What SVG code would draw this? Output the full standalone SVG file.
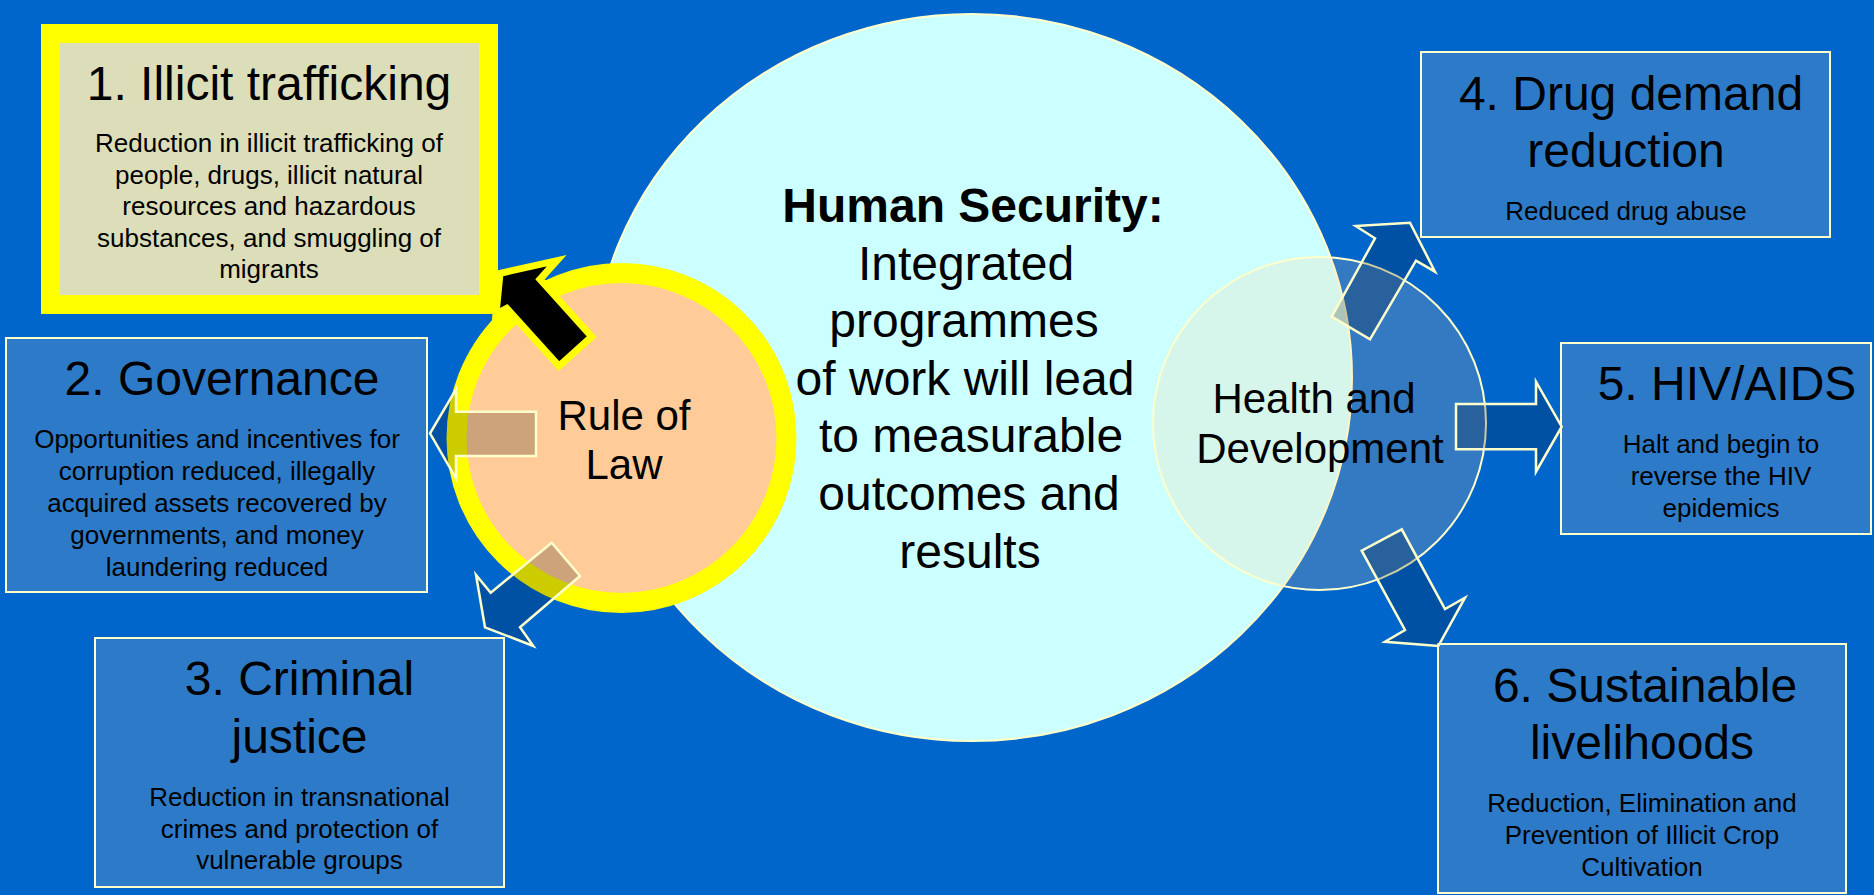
<svg xmlns="http://www.w3.org/2000/svg" width="1874" height="895" viewBox="0 0 1874 895">
<style>
.box{fill:#2D7BC8;stroke:#FFFFCC;stroke-width:2}
text{font-family:"Liberation Sans",Arial,Helvetica,sans-serif;fill:#000;text-anchor:middle}
.t{font-size:48px}
.b{font-size:26px}
.c{font-size:48px}
.m{font-size:42px}
.arrow{fill:#000;fill-opacity:0.2;stroke:#FFFFCC;stroke-width:2.5;stroke-linejoin:miter}
</style>
<rect x="0" y="0" width="1874" height="895" fill="#0066CC"/>

<g id="node-1">
<rect x="50.5" y="33.5" width="438" height="271" fill="#DCDEBA" stroke="#FFFF00" stroke-width="19"/>
<text class="t" x="269" y="100">1. Illicit trafficking</text>
<text class="b" x="269" y="152">Reduction in illicit trafficking of</text>
<text class="b" x="269" y="183.5">people, drugs, illicit natural</text>
<text class="b" x="269" y="215">resources and hazardous</text>
<text class="b" x="269" y="246.5">substances, and smuggling of</text>
<text class="b" x="269" y="278">migrants</text>
</g>

<g id="node-2">
<rect class="box" x="6" y="338" width="421" height="254"/>
<text class="t" x="222" y="395">2. Governance</text>
<text class="b" x="217" y="448">Opportunities and incentives for</text>
<text class="b" x="217" y="480">corruption reduced, illegally</text>
<text class="b" x="217" y="512">acquired assets recovered by</text>
<text class="b" x="217" y="544">governments, and money</text>
<text class="b" x="217" y="576">laundering reduced</text>
</g>

<g id="node-3">
<rect class="box" x="95" y="638" width="409" height="249"/>
<text class="t" x="299.5" y="695">3. Criminal</text>
<text class="t" x="299.5" y="753">justice</text>
<text class="b" x="299.5" y="806">Reduction in transnational</text>
<text class="b" x="299.5" y="837.5">crimes and protection of</text>
<text class="b" x="299.5" y="869">vulnerable groups</text>
</g>

<g id="node-4">
<rect class="box" x="1421" y="52" width="409" height="185"/>
<text class="t" x="1631" y="110">4. Drug demand</text>
<text class="t" x="1626" y="167">reduction</text>
<text class="b" x="1626" y="220">Reduced drug abuse</text>
</g>

<g id="node-5">
<rect class="box" x="1561" y="343" width="310" height="191"/>
<text class="t" x="1727" y="400">5. HIV/AIDS</text>
<text class="b" x="1721" y="453">Halt and begin to</text>
<text class="b" x="1721" y="485">reverse the HIV</text>
<text class="b" x="1721" y="517">epidemics</text>
</g>

<g id="node-6">
<rect class="box" x="1438" y="644" width="408" height="249"/>
<text class="t" x="1645" y="702">6. Sustainable</text>
<text class="t" x="1642" y="759">livelihoods</text>
<text class="b" x="1642" y="812">Reduction, Elimination and</text>
<text class="b" x="1642" y="844">Prevention of Illicit Crop</text>
<text class="b" x="1642" y="876">Cultivation</text>
</g>

<g id="node-human-security">
<ellipse cx="972" cy="377.5" rx="380" ry="363.5" fill="#CCFFFF" stroke="#FFFFCC" stroke-width="2"/>
<text class="c" x="973" y="222" font-weight="bold">Human Security:</text>
<text class="c" x="966" y="280">Integrated</text>
<text class="c" x="964" y="337">programmes</text>
<text class="c" x="965" y="395">of work will lead</text>
<text class="c" x="971" y="452">to measurable</text>
<text class="c" x="969" y="510">outcomes and</text>
<text class="c" x="970" y="568">results</text>
</g>

<g id="node-rule-of-law">
<circle cx="621.5" cy="438" r="165" fill="#FFCC99" stroke="#FFFF00" stroke-width="20"/>
<text class="m" x="624" y="430" font-size="41">Rule of</text>
<text class="m" x="624" y="479" font-size="41">Law</text>
</g>

<g id="node-health">
<circle cx="1319.5" cy="423.5" r="166.5" fill="#FFCC99" fill-opacity="0.2" stroke="#FFFFCC" stroke-width="2"/>
<text class="m" x="1314" y="413">Health and</text>
<text class="m" x="1320" y="463">Development</text>
</g>

<g id="connectors">
<polygon points="500,273.3 556.7,260.7 540,279.3 591.7,336.7 559,366 506.7,308.3 496,314" fill="#000" stroke="#FFFF00" stroke-width="7" stroke-linejoin="miter" stroke-miterlimit="6"/>
<polygon class="arrow" points="430,433.3 456,389.3 456,411.7 536,411.7 536,456 456,456 456,478.3"/>
<polygon class="arrow" points="551.7,542.7 580,576 520,627.3 533.3,646 485,627.3 476,575 490.7,592.7"/>
<polygon class="arrow" points="1331.7,316.7 1370,339.3 1416,260.7 1435,271.7 1410,222.7 1355.7,226 1375,238.3"/>
<polygon class="arrow" points="1456,404 1536,404 1536,381.7 1561.7,426.7 1536,471.7 1536,449.3 1456,449.3"/>
<polygon class="arrow" points="1401.7,529.3 1361.7,550.7 1405,630 1385,641.7 1438.3,646 1465,597.7 1445,609"/>
</g>
</svg>
